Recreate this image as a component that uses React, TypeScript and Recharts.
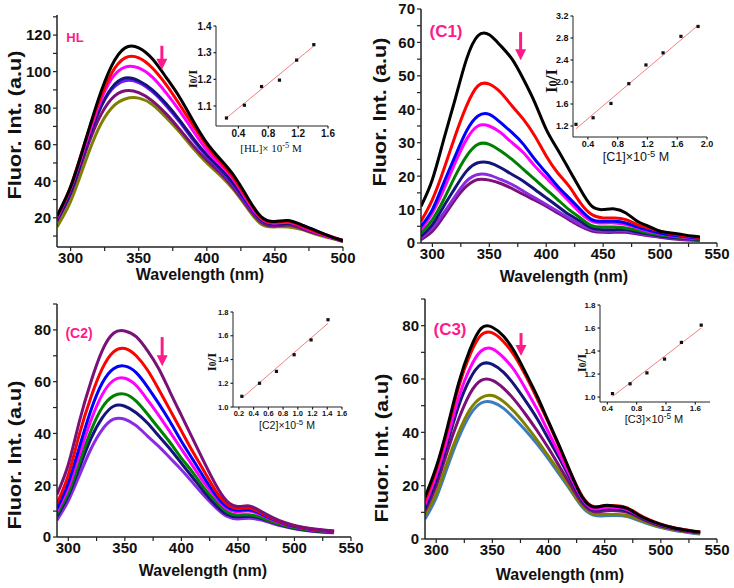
import React from 'react';
import { LineChart, Line, XAxis, YAxis, ComposedChart, Scatter, ReferenceDot } from 'recharts';

const SANS = '"Liberation Sans", Arial, Helvetica, sans-serif';
const SERIF = '"Liberation Serif", "Times New Roman", serif';
const PINK = '#ff1a8c';
const AXIS = '#222';
const FRAME = '#555';

// ---- HL titration spectra ----
const hlWavelength = [290, 300, 310, 320, 330, 340, 350, 360, 370, 380, 390, 400, 410, 420, 430, 440, 450, 460, 470, 480, 490, 500];
const hlBlack = [21, 37, 60, 84, 103, 113, 113, 107, 97, 86, 73, 61, 52, 43, 31, 20.5, 18, 18.5, 16, 13, 10, 7.5];
const hlRed = [21, 37, 60, 82, 99, 107.5, 107.5, 102, 93, 82, 70.5, 59.5, 50.5, 41.5, 30, 20, 17.5, 18, 15.5, 12.5, 10, 7.5];
const hlMagenta = [20, 36, 58, 80, 96, 102.5, 102, 97, 88.5, 78.5, 67.5, 57, 49, 40.5, 29, 19.5, 17, 17.5, 15, 12, 9.5, 7.5];
const hlNavy = [19, 34, 56, 77, 91, 96.5, 95, 90, 82.5, 73.5, 63.5, 54.5, 47, 38.5, 28, 19, 16.5, 17, 15, 12, 9.5, 7.5];
const hlViolet = [19, 35, 57, 77, 90, 95, 94, 89, 81.5, 72.5, 62.5, 53.5, 46, 37.5, 27, 18.5, 17, 17.5, 16, 13, 10, 7.5];
const hlPurple = [18, 33, 54, 73, 85, 89.5, 88.5, 84, 77, 68.5, 59.5, 51.5, 44.5, 36, 26, 17.5, 15.5, 16, 14, 11.5, 9.5, 7];
const hlOlive = [15, 29, 49, 68, 80, 85, 85.5, 82, 75, 67, 58, 50, 43, 35, 25, 16.5, 15, 15, 13.5, 11, 9, 7];

// ---- complex spectra share one wavelength grid ----
const cWavelength = [290, 300, 310, 320, 330, 340, 350, 360, 370, 380, 390, 400, 410, 420, 430, 440, 450, 460, 470, 480, 490, 500, 510, 520, 530, 535];

const c1Black = [11, 19, 31, 43, 55, 62, 62.3, 59, 55, 49, 42, 34, 28, 22, 16, 11, 10, 10.2, 9, 6.5, 5, 3.5, 3, 2.5, 2, 1.8];
const c1Red = [6.5, 13, 22, 32, 41, 47, 47.5, 45, 41, 37, 32, 26, 21, 17, 12, 8.5, 7.5, 7.5, 7, 5.5, 4.5, 3.5, 2.8, 2.2, 1.8, 1.6];
const c1Blue = [5, 10, 18, 26, 33.5, 38, 38.5, 36, 33, 29.5, 25, 21, 17, 13.5, 10, 7, 6.5, 6.5, 6, 4.8, 3.8, 3, 2.4, 2, 1.6, 1.5];
const c1Magenta = [4, 9, 16, 24, 31, 35, 35, 33, 30, 27, 23, 19.5, 16, 12.5, 9, 6.5, 6, 6, 5.5, 4.5, 3.5, 2.8, 2.2, 1.8, 1.5, 1.4];
const c1Green = [3, 7, 13, 20, 26, 29.5, 29.5, 27.5, 25, 22, 19, 16, 13, 10, 7.5, 5.2, 4.8, 4.8, 4.5, 3.8, 3, 2.4, 2, 1.6, 1.3, 1.2];
const c1Navy = [2, 5.5, 11, 16.5, 21.5, 24, 24, 22.5, 20.5, 18.5, 16, 13.5, 11, 8.5, 6.5, 4.5, 4, 4, 4, 3.3, 2.7, 2.1, 1.7, 1.4, 1.1, 1];
const c1Violet = [1.5, 4.5, 9, 14, 18.5, 20.5, 20.3, 19, 17.5, 15.5, 13.5, 11.5, 9.5, 7.5, 5.5, 4, 3.5, 3.6, 3.6, 3, 2.4, 1.9, 1.5, 1.2, 1, 0.9];
const c1Purple = [1, 3.5, 8, 13, 17, 19, 18.8, 17.8, 16.3, 14.5, 12.8, 11, 9, 7, 5, 3.6, 3.2, 3.2, 3.2, 2.7, 2.2, 1.7, 1.3, 1, 0.8, 0.7];

const c2Purple = [16.5, 28, 45, 60, 72, 78.7, 79.6, 77.4, 72, 65, 56, 47, 38, 29, 20.5, 14, 11.8, 12, 10, 7.7, 5.8, 4.5, 3.6, 3, 2.5, 2.3];
const c2Red = [13, 24, 40, 54, 65, 71.5, 72.8, 70, 64.5, 57, 49, 41, 33, 25.5, 18, 12.8, 11, 11.2, 9.5, 7.3, 5.5, 4.3, 3.4, 2.8, 2.4, 2.2];
const c2Blue = [11, 21, 35, 49, 59.5, 65, 66, 63.5, 58, 51.5, 44.5, 37, 30, 23, 16.5, 11.8, 10.3, 10.5, 9, 7, 5.3, 4.1, 3.3, 2.7, 2.3, 2.1];
const c2Magenta = [10, 19, 32, 45, 55, 60.5, 61.3, 58.5, 53, 47, 40.5, 34, 27.5, 21, 15.5, 11, 9.8, 10, 8.6, 6.7, 5.1, 4, 3.2, 2.6, 2.2, 2];
const c2Green = [9, 17, 29, 41, 50, 54.5, 55.2, 52.5, 47.5, 42, 36.5, 30.5, 25, 19, 14, 9.8, 8.5, 8.6, 7.6, 6, 4.6, 3.6, 2.9, 2.4, 2, 1.9];
const c2Navy = [8, 16, 27, 38, 46, 50.5, 50.5, 48, 44, 39, 34, 28.5, 23, 17.5, 12.5, 8.8, 7.8, 8, 7.2, 5.8, 4.4, 3.4, 2.7, 2.2, 1.9, 1.8];
const c2Violet = [6.5, 14, 24, 34, 41.5, 45.5, 45.5, 43, 39, 35, 30.5, 26, 21, 16, 11.5, 8, 7, 7.2, 6.6, 5.3, 4.1, 3.2, 2.5, 2, 1.7, 1.6];

const c3Black = [15.7, 27, 42, 58.5, 71, 79, 79.4, 76, 70, 62, 53.5, 44, 34.6, 24.5, 15.7, 12, 12.6, 12.3, 11.5, 9, 7, 5.5, 4.3, 3.5, 2.8, 2.6];
const c3Red = [14.5, 26, 41, 57, 69, 76.5, 77.3, 74, 68.5, 61, 52.5, 43.5, 34, 24.5, 16, 12.2, 12.5, 12.5, 11.7, 9.3, 7.2, 5.6, 4.4, 3.6, 2.9, 2.7];
const c3Magenta = [13, 24, 38, 53, 64, 70.5, 71.3, 68, 63, 56, 48.5, 40, 31.5, 23, 15, 11.3, 11.8, 11.8, 11, 8.8, 6.8, 5.3, 4.2, 3.4, 2.7, 2.5];
const c3Navy = [11.5, 22, 36, 50, 60, 65.5, 65.5, 62.5, 57.5, 51.5, 45, 37.5, 30, 22, 14.5, 11, 11.3, 11.3, 10.5, 8.5, 6.5, 5, 4, 3.2, 2.6, 2.4];
const c3Purple = [10.5, 20, 33, 45, 54.5, 59.5, 59.5, 56.5, 52, 46.5, 40.5, 34, 27, 20, 13.5, 10.3, 10.5, 10.6, 10, 8.2, 6.3, 4.9, 3.9, 3.1, 2.5, 2.3];
const c3Olive = [9, 17, 29, 40, 48.5, 53, 53.8, 51.5, 47.5, 42.5, 37, 31, 25, 18.5, 12.5, 9.5, 9.2, 9.2, 8.8, 7.4, 5.8, 4.5, 3.6, 2.9, 2.3, 2.1];
const c3Steel = [7.5, 15.5, 27, 38, 46.5, 51, 51.3, 49, 45, 40.5, 35.5, 30, 24, 18, 12, 9, 8.7, 8.8, 8.4, 7, 5.5, 4.3, 3.4, 2.7, 2.1, 1.9];

// ---- Stern-Volmer insets: concentration (x10^-5 M) vs I0/I ----
const hlConc = [0.24, 0.48, 0.71, 0.95, 1.18, 1.41];
const hlRatio = [1.055, 1.103, 1.173, 1.197, 1.272, 1.33];
const hlFitX = [0.24, 1.41];
const hlFitY = [1.055, 1.325];

const c1Conc = [0.24, 0.47, 0.71, 0.95, 1.18, 1.41, 1.65, 1.88];
const c1Ratio = [1.23, 1.35, 1.61, 1.97, 2.31, 2.53, 2.83, 3.01];
const c1FitX = [0.24, 1.88];
const c1FitY = [1.15, 3.03];

const c2Conc = [0.24, 0.48, 0.71, 0.95, 1.18, 1.41];
const c2Ratio = [1.09, 1.2, 1.3, 1.44, 1.565, 1.735];
const c2FitX = [0.24, 1.41];
const c2FitY = [1.075, 1.705];

const c3Conc = [0.47, 0.71, 0.94, 1.18, 1.41, 1.68];
const c3Ratio = [1.03, 1.115, 1.21, 1.33, 1.475, 1.625];
const c3FitX = [0.47, 1.68];
const c3FitY = [1.005, 1.6];

type Series = { name: string; color: string; values: number[] };
type Rect = { l: number; t: number; r: number; b: number };

const toRows = (wl: number[], series: Series[]) =>
  wl.map((w, i) => {
    const row: Record<string, number> = { w };
    series.forEach((s) => {
      row[s.name] = s.values[i];
    });
    return row;
  });

const toPoints = (xs: number[], ys: number[]) => xs.map((x, i) => ({ x, y: ys[i] }));

const XTick = (p: any) => {
  const { x, y, payload, major, size, len, fmt } = p;
  const isMajor = major.includes(payload.value);
  return (
    <g>
      <line x1={x} x2={x} y1={y} y2={y + len} stroke={AXIS} strokeWidth={1.2} />
      {isMajor && (
        <text x={x} y={y + len + 1 + size * 0.74} textAnchor="middle" fontSize={size} fontWeight="bold" fontFamily={SANS} fill="#111">
          {fmt(payload.value)}
        </text>
      )}
    </g>
  );
};

const YTick = (p: any) => {
  const { x, y, payload, major, size, len, fmt } = p;
  const isMajor = major.includes(payload.value);
  return (
    <g>
      <line x1={x - len} x2={x} y1={y} y2={y} stroke={AXIS} strokeWidth={1.2} />
      {isMajor && (
        <text x={x - len - 2} y={y + size * 0.36} textAnchor="end" fontSize={size} fontWeight="bold" fontFamily={SANS} fill="#111">
          {fmt(payload.value)}
        </text>
      )}
    </g>
  );
};

const ArrowShape = ({ cx, cy, len }: { cx: number; cy: number; len: number }) => (
  <g>
    <line x1={cx} x2={cx} y1={cy - len} y2={cy - 9} stroke={PINK} strokeWidth={3} />
    <polygon points={`${cx - 5.5},${cy - 11} ${cx + 5.5},${cy - 11} ${cx},${cy}`} fill={PINK} />
  </g>
);

const intFmt = (v: number) => String(v);
const decFmt = (v: number) => v.toFixed(1);

type PanelProps = {
  plot: Rect;
  wl: number[];
  series: Series[];
  xDomain: [number, number];
  xMajor: number[];
  xMinor: number[];
  yDomain: [number, number];
  yMajor: number[];
  yMinor: number[];
  arrow: { x: number; y: number; len: number };
};

const Panel = ({ plot, wl, series, xDomain, xMajor, xMinor, yDomain, yMajor, yMinor, arrow }: PanelProps) => {
  const padL = 50;
  const padT = 12;
  const padR = 20;
  const padB = 35;
  const rows = toRows(wl, series);
  return (
    <div style={{ position: 'absolute', left: plot.l - padL, top: plot.t - padT }}>
      <LineChart
        width={plot.r - plot.l + padL + padR}
        height={plot.b - plot.t + padT + padB}
        data={rows}
        margin={{ top: padT, right: padR, bottom: padB - 25, left: padL - 40 }}
      >
        <XAxis
          dataKey="w"
          type="number"
          domain={xDomain}
          allowDataOverflow
          ticks={[...xMajor, ...xMinor].sort((a, b) => a - b)}
          interval={0}
          height={25}
          tickSize={0}
          tickMargin={0}
          tickLine={false}
          axisLine={{ stroke: AXIS, strokeWidth: 1.5 }}
          tick={(p: any) => <XTick {...p} major={xMajor} size={15} len={4} fmt={intFmt} />}
        />
        <YAxis
          type="number"
          domain={yDomain}
          allowDataOverflow
          ticks={[...yMajor, ...yMinor].sort((a, b) => a - b)}
          interval={0}
          width={40}
          tickSize={0}
          tickMargin={0}
          tickLine={false}
          axisLine={{ stroke: AXIS, strokeWidth: 1.5 }}
          tick={(p: any) => <YTick {...p} major={yMajor} size={15} len={4} fmt={intFmt} />}
        />
        <XAxis xAxisId="top" orientation="top" dataKey="w" type="number" domain={xDomain} height={0} tick={false} tickLine={false} axisLine={{ stroke: FRAME, strokeWidth: 1.5 }} />
        <YAxis yAxisId="right" orientation="right" type="number" domain={yDomain} width={0} tick={false} tickLine={false} axisLine={{ stroke: FRAME, strokeWidth: 1.5 }} />
        {series.map((s) => (
          <Line key={s.name} type="natural" dataKey={s.name} stroke={s.color} strokeWidth={3} dot={false} isAnimationActive={false} />
        ))}
        <ReferenceDot
          x={arrow.x}
          y={arrow.y}
          r={0}
          ifOverflow="visible"
          shape={(p: any) => <ArrowShape cx={p.cx} cy={p.cy} len={arrow.len} />}
        />
      </LineChart>
    </div>
  );
};

type InsetProps = {
  plot: Rect;
  xs: number[];
  ys: number[];
  fitX: number[];
  fitY: number[];
  xDomain: [number, number];
  xTicks: number[];
  yDomain: [number, number];
  yTicks: number[];
  size: number;
};

const Inset = ({ plot, xs, ys, fitX, fitY, xDomain, xTicks, yDomain, yTicks, size }: InsetProps) => {
  const padL = 34;
  const padT = 8;
  const padR = 10;
  const padB = 20;
  return (
    <div style={{ position: 'absolute', left: plot.l - padL, top: plot.t - padT }}>
      <ComposedChart
        width={plot.r - plot.l + padL + padR}
        height={plot.b - plot.t + padT + padB}
        margin={{ top: padT, right: padR, bottom: padB - 16, left: padL - 30 }}
      >
        <XAxis
          dataKey="x"
          type="number"
          domain={xDomain}
          allowDataOverflow
          ticks={xTicks}
          interval={0}
          height={16}
          tickSize={0}
          tickMargin={0}
          tickLine={false}
          axisLine={{ stroke: AXIS, strokeWidth: 1 }}
          tick={(p: any) => <XTick {...p} major={xTicks} size={size} len={2.5} fmt={decFmt} />}
        />
        <YAxis
          dataKey="y"
          type="number"
          domain={yDomain}
          allowDataOverflow
          ticks={yTicks}
          interval={0}
          width={30}
          tickSize={0}
          tickMargin={0}
          tickLine={false}
          axisLine={{ stroke: AXIS, strokeWidth: 1 }}
          tick={(p: any) => <YTick {...p} major={yTicks} size={size} len={2.5} fmt={decFmt} />}
        />
        <Line data={toPoints(fitX, fitY)} dataKey="y" type="linear" stroke="#f08080" strokeWidth={1} dot={false} isAnimationActive={false} />
        <Scatter
          data={toPoints(xs, ys)}
          dataKey="y"
          fill="#111"
          isAnimationActive={false}
          shape={(p: any) => <rect x={p.cx - 1.6} y={p.cy - 1.6} width={3.2} height={3.2} fill="#111" />}
        />
      </ComposedChart>
    </div>
  );
};

const Txt = ({
  x,
  y,
  size,
  children,
  color = '#111',
  weight = 'bold',
  family = SANS,
  rotate = false,
  sx = 1,
}: {
  x: number;
  y: number;
  size: number;
  children: React.ReactNode;
  color?: string;
  weight?: string;
  family?: string;
  rotate?: boolean;
  sx?: number;
}) => (
  <div
    style={{
      position: 'absolute',
      left: x,
      top: y,
      transform: `translate(-50%, -50%)${rotate ? ' rotate(-90deg)' : ''} scale(${sx}, 1)`,
      whiteSpace: 'nowrap',
      fontSize: size,
      fontWeight: weight as any,
      fontFamily: family,
      color,
      lineHeight: 1,
    }}
  >
    {children}
  </div>
);

const RatioLabel = ({ x, y, size }: { x: number; y: number; size: number }) => (
  <Txt x={x} y={y} size={size} family={SERIF} rotate>
    I<span style={{ fontSize: '0.72em' }}>0</span>/I
  </Txt>
);

const ConcLabel = ({ x, y, size, name, serif = false }: { x: number; y: number; size: number; name: string; serif?: boolean }) => (
  <Txt x={x} y={y} size={size} family={serif ? SERIF : SANS} weight="normal">
    [{name}]×{serif ? ' ' : ''}10<sup style={{ fontSize: '0.75em', verticalAlign: '0.45em' }}>-5</sup> M
  </Txt>
);

const hlSeries: Series[] = [
  { name: 'olive', color: '#808000', values: hlOlive },
  { name: 'purple', color: '#7a1078', values: hlPurple },
  { name: 'violet', color: '#6a1aff', values: hlViolet },
  { name: 'navy', color: '#14147a', values: hlNavy },
  { name: 'magenta', color: '#ff00ff', values: hlMagenta },
  { name: 'red', color: '#ff0000', values: hlRed },
  { name: 'black', color: '#000000', values: hlBlack },
];

const c1Series: Series[] = [
  { name: 'purple', color: '#7a1078', values: c1Purple },
  { name: 'violet', color: '#8a2be2', values: c1Violet },
  { name: 'navy', color: '#14147a', values: c1Navy },
  { name: 'green', color: '#008000', values: c1Green },
  { name: 'magenta', color: '#ff00ff', values: c1Magenta },
  { name: 'blue', color: '#0000ff', values: c1Blue },
  { name: 'red', color: '#ff0000', values: c1Red },
  { name: 'black', color: '#000000', values: c1Black },
];

const c2Series: Series[] = [
  { name: 'violet', color: '#8a2be2', values: c2Violet },
  { name: 'navy', color: '#14147a', values: c2Navy },
  { name: 'green', color: '#008000', values: c2Green },
  { name: 'magenta', color: '#ff00ff', values: c2Magenta },
  { name: 'blue', color: '#0000ff', values: c2Blue },
  { name: 'red', color: '#ff0000', values: c2Red },
  { name: 'purple', color: '#7a1078', values: c2Purple },
];

const c3Series: Series[] = [
  { name: 'steel', color: '#3b7dc0', values: c3Steel },
  { name: 'olive', color: '#808000', values: c3Olive },
  { name: 'purple', color: '#7a1078', values: c3Purple },
  { name: 'navy', color: '#14147a', values: c3Navy },
  { name: 'magenta', color: '#ff00ff', values: c3Magenta },
  { name: 'red', color: '#ff0000', values: c3Red },
  { name: 'black', color: '#000000', values: c3Black },
];

const X_MAJOR_WIDE = [300, 350, 400, 450, 500, 550];
const X_MINOR_WIDE = [325, 375, 425, 475, 525];

export default function App() {
  return (
    <div style={{ position: 'absolute', left: 0, top: 0, width: 734, height: 588, background: '#fff', overflow: 'hidden' }}>
      {/* HL */}
      <Panel
        plot={{ l: 57, t: 15, r: 343, b: 247 }}
        wl={hlWavelength}
        series={hlSeries}
        xDomain={[290, 500]}
        xMajor={[300, 350, 400, 450, 500]}
        xMinor={[325, 375, 425, 475]}
        yDomain={[4, 131]}
        yMajor={[20, 40, 60, 80, 100, 120]}
        yMinor={[10, 30, 50, 70, 90, 110, 130]}
        arrow={{ x: 367, y: 101, len: 24 }}
      />
      <Inset
        plot={{ l: 216, t: 26, r: 328, b: 126 }}
        xs={hlConc}
        ys={hlRatio}
        fitX={hlFitX}
        fitY={hlFitY}
        xDomain={[0.1, 1.6]}
        xTicks={[0.4, 0.8, 1.2, 1.6]}
        yDomain={[1.025, 1.4]}
        yTicks={[1.1, 1.2, 1.3, 1.4]}
        size={10}
      />
      <Txt x={75} y={37} size={13} color={PINK}>HL</Txt>
      <Txt x={15} y={125} size={18} rotate sx={1.2}>Fluor. Int. (a.u)</Txt>
      <Txt x={200} y={275} size={16}>Wavelength (nm)</Txt>
      <RatioLabel x={193} y={79} size={13} />
      <ConcLabel x={271} y={148} size={11} name="HL" serif />

      {/* C1 */}
      <Panel
        plot={{ l: 421, t: 9, r: 717, b: 243 }}
        wl={cWavelength}
        series={c1Series}
        xDomain={[290, 550]}
        xMajor={X_MAJOR_WIDE}
        xMinor={X_MINOR_WIDE}
        yDomain={[0, 70]}
        yMajor={[0, 10, 20, 30, 40, 50, 60, 70]}
        yMinor={[5, 15, 25, 35, 45, 55, 65]}
        arrow={{ x: 377.5, y: 54.7, len: 28 }}
      />
      <Inset
        plot={{ l: 573, t: 16, r: 707, b: 137 }}
        xs={c1Conc}
        ys={c1Ratio}
        fitX={c1FitX}
        fitY={c1FitY}
        xDomain={[0.2, 2.0]}
        xTicks={[0.4, 0.8, 1.2, 1.6, 2.0]}
        yDomain={[1.0, 3.2]}
        yTicks={[1.2, 1.6, 2.0, 2.4, 2.8, 3.2]}
        size={9}
      />
      <Txt x={446} y={31} size={17} color={PINK}>(C1)</Txt>
      <Txt x={380} y={112} size={18} rotate sx={1.2}>Fluor. Int. (a.u)</Txt>
      <Txt x={564} y={277} size={16}>Wavelength (nm)</Txt>
      <RatioLabel x={551} y={81} size={17} />
      <ConcLabel x={636} y={157} size={12.5} name="C1" />

      {/* C2 */}
      <Panel
        plot={{ l: 57, t: 304, r: 351, b: 537 }}
        wl={cWavelength}
        series={c2Series}
        xDomain={[290, 550]}
        xMajor={X_MAJOR_WIDE}
        xMinor={X_MINOR_WIDE}
        yDomain={[0, 90]}
        yMajor={[0, 20, 40, 60, 80]}
        yMinor={[10, 30, 50, 70, 90]}
        arrow={{ x: 383, y: 66, len: 29 }}
      />
      <Inset
        plot={{ l: 233, t: 312, r: 342, b: 407 }}
        xs={c2Conc}
        ys={c2Ratio}
        fitX={c2FitX}
        fitY={c2FitY}
        xDomain={[0.12, 1.6]}
        xTicks={[0.2, 0.4, 0.6, 0.8, 1.0, 1.2, 1.4, 1.6]}
        yDomain={[1.0, 1.8]}
        yTicks={[1.0, 1.2, 1.4, 1.6, 1.8]}
        size={7.5}
      />
      <Txt x={79} y={333} size={14} color={PINK}>(C2)</Txt>
      <Txt x={15} y={455} size={18} rotate sx={1.2}>Fluor. Int. (a.u)</Txt>
      <Txt x={203} y={571} size={16}>Wavelength (nm)</Txt>
      <RatioLabel x={212} y={362} size={13} />
      <ConcLabel x={287} y={425} size={10.5} name="C2" />

      {/* C3 */}
      <Panel
        plot={{ l: 425, t: 299, r: 717, b: 539 }}
        wl={cWavelength}
        series={c3Series}
        xDomain={[290, 550]}
        xMajor={X_MAJOR_WIDE}
        xMinor={X_MINOR_WIDE}
        yDomain={[0, 90]}
        yMajor={[0, 20, 40, 60, 80]}
        yMinor={[10, 30, 50, 70, 90]}
        arrow={{ x: 375.5, y: 68.6, len: 23 }}
      />
      <Inset
        plot={{ l: 600, t: 305, r: 710, b: 402 }}
        xs={c3Conc}
        ys={c3Ratio}
        fitX={c3FitX}
        fitY={c3FitY}
        xDomain={[0.3, 1.8]}
        xTicks={[0.4, 0.8, 1.2, 1.6]}
        yDomain={[0.957, 1.8]}
        yTicks={[1.0, 1.2, 1.4, 1.6, 1.8]}
        size={8}
      />
      <Txt x={450} y={329} size={17} color={PINK}>(C3)</Txt>
      <Txt x={382} y={448} size={18} rotate sx={1.2}>Fluor. Int. (a.u)</Txt>
      <Txt x={560} y={575} size={16}>Wavelength (nm)</Txt>
      <RatioLabel x={582} y={363} size={13} />
      <ConcLabel x={654} y={419} size={11} name="C3" />
    </div>
  );
}
